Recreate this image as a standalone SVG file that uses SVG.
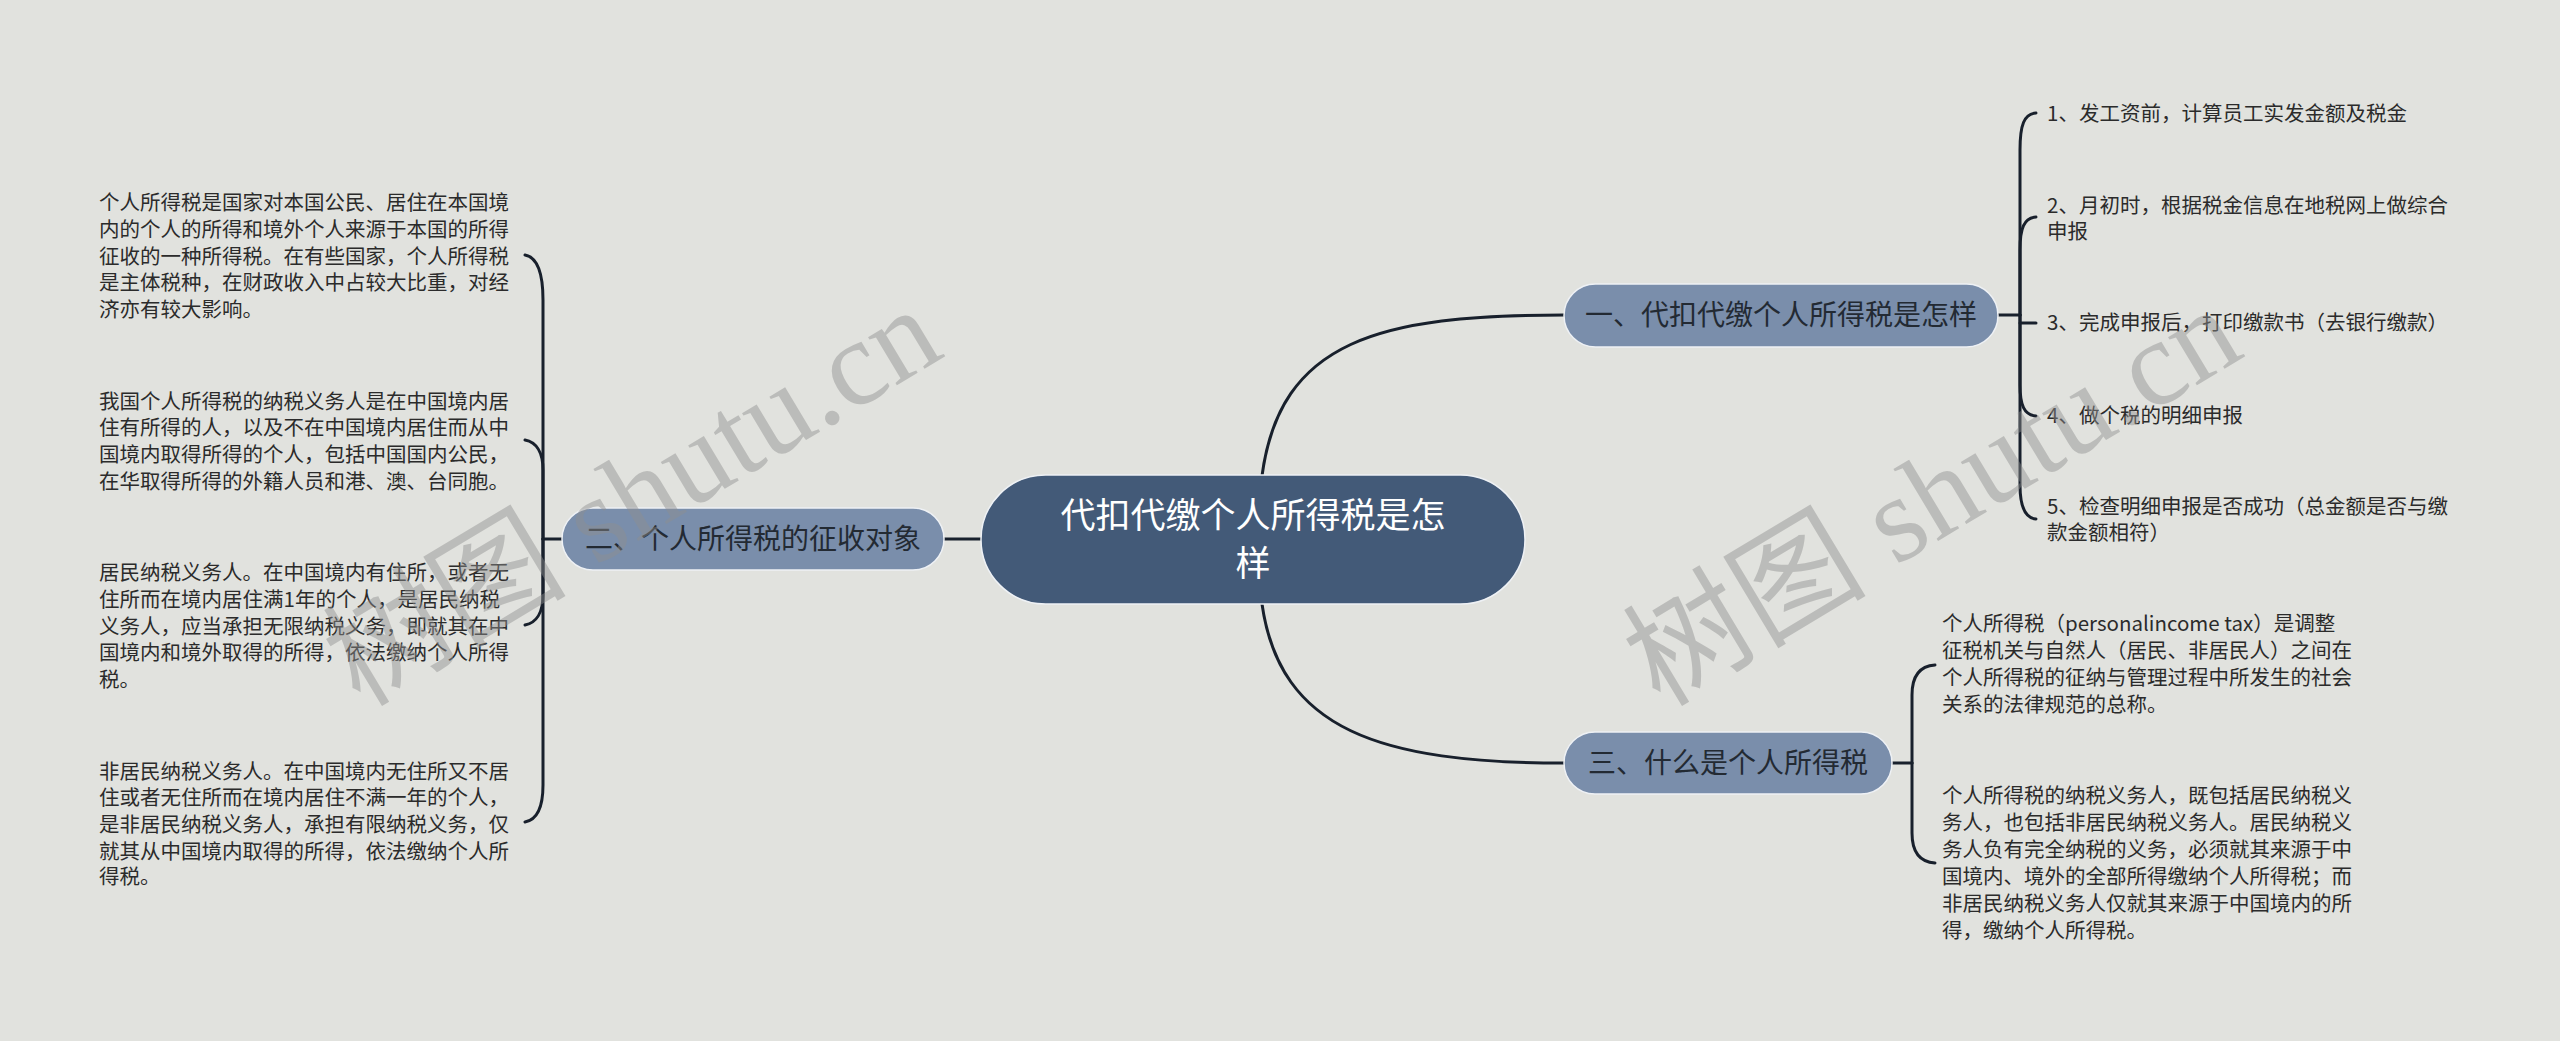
<svg xmlns="http://www.w3.org/2000/svg" width="2560" height="1041" viewBox="0 0 2560 1041">
<style>
.leaf{font-family:"Noto Sans CJK SC","Noto Sans",sans-serif;font-size:20.5px;fill:#2b2b2b}
.br{font-family:"Noto Sans CJK SC","Noto Sans",sans-serif;font-size:28px;fill:#232a33;text-anchor:middle}
.root{font-family:"Noto Sans CJK SC","Noto Sans",sans-serif;font-size:35px;fill:#ffffff;text-anchor:middle}
.brbox{fill:#7a8eab;stroke:#eef1f5;stroke-width:1.5}
.conn path{fill:none;stroke:#18202c;stroke-width:3;stroke-linecap:round}
.wm{font-family:"Liberation Serif","Noto Sans CJK SC",serif;font-size:122px;fill:#8f8f8f;opacity:0.45}
</style>
<rect width="2560" height="1041" fill="#e1e2de"/>
<g id="connectors" class="conn">
<path d="M1262 476 C1280 340 1380 315 1564 315"/>
<path d="M1262 604 C1280 730 1380 763 1564 763"/>
<path d="M944 539 L981 539"/>
<path d="M1998 315 L2020 315"/>
<path d="M2020 315 L2020 150 C2020 125 2024 114 2036 113"/>
<path d="M2020 315 L2020 250 C2020 228 2024 218 2036 217"/>
<path d="M2020 323 L2036 323"/>
<path d="M2020 315 L2020 385 C2020 405 2024 415 2036 416"/>
<path d="M2020 315 L2020 485 C2020 505 2024 518 2036 519"/>
<path d="M1892 763 L1912 763"/>
<path d="M1912 763 L1912 695 C1912 675 1920 666 1935 665"/>
<path d="M1912 763 L1912 833 C1912 853 1920 862 1935 863"/>
<path d="M562 539 L543 539"/>
<path d="M543 539 L543 300 C543 270 536 257 525 255"/>
<path d="M543 539 L543 470 C543 452 536 442 525 440"/>
<path d="M543 539 L543 595 C543 613 536 623 525 625"/>
<path d="M543 539 L543 785 C543 810 536 820 525 822"/>
</g>
<g id="root">
<rect x="981" y="475" width="544" height="129" rx="64.5" fill="#435a78" stroke="#eef1f5" stroke-width="1.5"/>
<text class="root" x="1253" y="528">代扣代缴个人所得税是怎</text>
<text class="root" x="1253" y="576">样</text>
</g>
<g id="branch1">
<rect class="brbox" x="1564" y="284" width="434" height="63" rx="31.5"/>
<text class="br" x="1781" y="325">一、代扣代缴个人所得税是怎样</text>
</g>
<g id="branch2">
<rect class="brbox" x="562" y="508" width="382" height="62" rx="31"/>
<text class="br" x="753" y="549">二、个人所得税的征收对象</text>
</g>
<g id="branch3">
<rect class="brbox" x="1564" y="732" width="328" height="62" rx="31"/>
<text class="br" x="1728" y="773">三、什么是个人所得税</text>
</g>
<g id="leaf1-1"><text class="leaf" x="2047" y="121">1、发工资前，计算员工实发金额及税金</text></g>
<g id="leaf1-2"><text class="leaf" x="2047" y="213">2、月初时，根据税金信息在地税网上做综合</text><text class="leaf" x="2047" y="239">申报</text></g>
<g id="leaf1-3"><text class="leaf" x="2047" y="330">3、完成申报后，打印缴款书（去银行缴款）</text></g>
<g id="leaf1-4"><text class="leaf" x="2047" y="423">4、做个税的明细申报</text></g>
<g id="leaf1-5"><text class="leaf" x="2047" y="514">5、检查明细申报是否成功（总金额是否与缴</text><text class="leaf" x="2047" y="540">款金额相符）</text></g>
<g id="leaf2-1">
<text class="leaf" x="99" y="210">个人所得税是国家对本国公民、居住在本国境</text>
<text class="leaf" x="99" y="237">内的个人的所得和境外个人来源于本国的所得</text>
<text class="leaf" x="99" y="264">征收的一种所得税。在有些国家，个人所得税</text>
<text class="leaf" x="99" y="290">是主体税种，在财政收入中占较大比重，对经</text>
<text class="leaf" x="99" y="317">济亦有较大影响。</text>
</g>
<g id="leaf2-2">
<text class="leaf" x="99" y="409">我国个人所得税的纳税义务人是在中国境内居</text>
<text class="leaf" x="99" y="435">住有所得的人，以及不在中国境内居住而从中</text>
<text class="leaf" x="99" y="462">国境内取得所得的个人，包括中国国内公民，</text>
<text class="leaf" x="99" y="489">在华取得所得的外籍人员和港、澳、台同胞。</text>
</g>
<g id="leaf2-3">
<text class="leaf" x="99" y="580">居民纳税义务人。在中国境内有住所，或者无</text>
<text class="leaf" x="99" y="607">住所而在境内居住满1年的个人，是居民纳税</text>
<text class="leaf" x="99" y="634">义务人，应当承担无限纳税义务，即就其在中</text>
<text class="leaf" x="99" y="660">国境内和境外取得的所得，依法缴纳个人所得</text>
<text class="leaf" x="99" y="687">税。</text>
</g>
<g id="leaf2-4">
<text class="leaf" x="99" y="779">非居民纳税义务人。在中国境内无住所又不居</text>
<text class="leaf" x="99" y="805">住或者无住所而在境内居住不满一年的个人，</text>
<text class="leaf" x="99" y="832">是非居民纳税义务人，承担有限纳税义务，仅</text>
<text class="leaf" x="99" y="859">就其从中国境内取得的所得，依法缴纳个人所</text>
<text class="leaf" x="99" y="884">得税。</text>
</g>
<g id="leaf3-1">
<text class="leaf" x="1942" y="631">个人所得税（personalincome tax）是调整</text>
<text class="leaf" x="1942" y="658">征税机关与自然人（居民、非居民人）之间在</text>
<text class="leaf" x="1942" y="685">个人所得税的征纳与管理过程中所发生的社会</text>
<text class="leaf" x="1942" y="712">关系的法律规范的总称。</text>
</g>
<g id="leaf3-2">
<text class="leaf" x="1942" y="803">个人所得税的纳税义务人，既包括居民纳税义</text>
<text class="leaf" x="1942" y="830">务人，也包括非居民纳税义务人。居民纳税义</text>
<text class="leaf" x="1942" y="857">务人负有完全纳税的义务，必须就其来源于中</text>
<text class="leaf" x="1942" y="884">国境内、境外的全部所得缴纳个人所得税；而</text>
<text class="leaf" x="1942" y="911">非居民纳税义务人仅就其来源于中国境内的所</text>
<text class="leaf" x="1942" y="938">得，缴纳个人所得税。</text>
</g>
<g id="watermarks">
<text class="wm" x="360" y="708" transform="rotate(-31 360 708)">树图 shutu.cn</text>
<text class="wm" x="1660" y="708" transform="rotate(-31 1660 708)">树图 shutu.cn</text>
</g>
</svg>
